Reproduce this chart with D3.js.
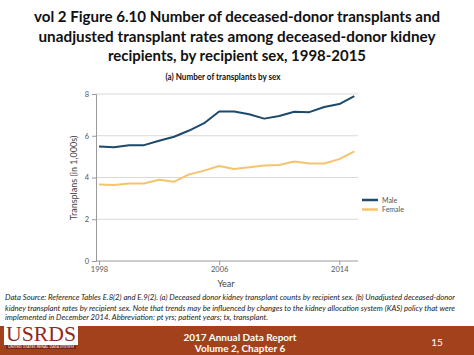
<!DOCTYPE html>
<html><head><meta charset="utf-8">
<script src="https://cdn.jsdelivr.net/npm/d3@7"></script>
<style>body{margin:0;background:#fff}svg{display:block}</style>
</head><body>
<svg id="c" width="474" height="355"></svg>
<script>
const years = [1998,1999,2000,2001,2002,2003,2004,2005,2006,2007,2008,2009,2010,2011,2012,2013,2014,2015];
const male = [5.48,5.45,5.55,5.55,5.76,5.95,6.25,6.60,7.16,7.16,7.03,6.82,6.95,7.15,7.13,7.38,7.52,7.90];
const female = [3.67,3.64,3.71,3.71,3.89,3.80,4.15,4.33,4.55,4.41,4.49,4.57,4.60,4.77,4.67,4.67,4.88,5.25];
const yTicks = [0,2,4,6,8];
const xTicks = [1998,2006,2014];
const seriesNames = ["Male","Female"];
const colors = ["#1d4a6a","#f5c46b"];
const titleLines = ["vol 2 Figure 6.10 Number of deceased-donor transplants and","unadjusted transplant rates among deceased-donor kidney","recipients, by recipient sex, 1998-2015"];
const noteLines = ["Data Source: Reference Tables E.8(2) and E.9(2). (a) Deceased donor kidney transplant counts by recipient sex. (b) Unadjusted deceased-donor",
"kidney transplant rates by recipient sex. Note that trends may be influenced by changes to the kidney allocation system (KAS) policy that were",
"implemented in December 2014. Abbreviation: pt yrs; patient years; tx, transplant."];

const svg = d3.select("#c");
const font = "Lato, 'Open Sans', sans-serif";

// Title
const tW = [406,397,258];
const tY = [22,42,61];
titleLines.forEach((t,i)=>{
  svg.append("text").attr("x",237).attr("y",tY[i]).attr("text-anchor","middle")
    .attr("font-family",font).attr("font-weight","bold").attr("font-size",16)
    .attr("fill","#111").attr("textLength",tW[i]).attr("lengthAdjust","spacingAndGlyphs").text(t);
});
svg.append("text").attr("x",223).attr("y",80).attr("text-anchor","middle")
  .attr("font-family",font).attr("font-weight","bold").attr("font-size",9.5)
  .attr("fill","#111").attr("textLength",115).attr("lengthAdjust","spacingAndGlyphs")
  .text("(a) Number of transplants by sex");

// scales
const x = d3.scaleLinear().domain([1998,2014]).range([99,339.3]);
const y = d3.scaleLinear().domain([0,8]).range([261,94]);
const xL = 96, xR = 358;

// grid
svg.append("g").selectAll("line").data(yTicks.filter(d=>d>0)).join("line")
  .attr("x1",xL).attr("x2",xR).attr("y1",d=>y(d)).attr("y2",d=>y(d))
  .attr("stroke","#d9d9d9").attr("stroke-width",1);

// axes
const gy = svg.append("g").attr("transform",`translate(${xL},0)`)
  .call(d3.axisLeft(y).tickValues(yTicks).tickSize(4).tickPadding(3));
gy.select(".domain").attr("stroke","#9a9a9a");
gy.selectAll(".tick line").attr("stroke","#9a9a9a");
gy.selectAll("text").attr("font-family",font).attr("font-size",7.5).attr("fill","#555");

const gx = svg.append("g").attr("transform",`translate(0,261)`)
  .call(d3.axisBottom(x).tickValues(xTicks).tickFormat(d3.format("d")).tickSize(4).tickPadding(2));
gx.select(".domain").attr("d",`M${xL},0H${xR}`).attr("stroke","#9a9a9a");
gx.selectAll(".tick line").attr("stroke","#9a9a9a");
gx.selectAll("text").attr("font-family",font).attr("font-size",7.5).attr("fill","#555");

svg.append("text").attr("transform","translate(77,178) rotate(-90)").attr("text-anchor","middle")
  .attr("font-family",font).attr("font-size",9).attr("fill","#444").text("Transplans (in 1,000s)");
svg.append("text").attr("x",226).attr("y",287).attr("text-anchor","middle")
  .attr("font-family",font).attr("font-size",9).attr("fill","#444").text("Year");

// lines
const line = d3.line().x((d,i)=>x(years[i])).y(d=>y(d));
[male,female].forEach((s,i)=>{
  svg.append("path").datum(s).attr("d",line).attr("fill","none")
    .attr("stroke",colors[i]).attr("stroke-width",2).attr("stroke-linejoin","round");
});

// legend
seriesNames.forEach((n,i)=>{
  const ly = 200 + i*9.5;
  svg.append("line").attr("x1",362).attr("x2",378).attr("y1",ly).attr("y2",ly)
    .attr("stroke",colors[i]).attr("stroke-width",2.5);
  svg.append("text").attr("x",382).attr("y",ly+2.5).attr("font-family",font)
    .attr("font-size",7).attr("fill","#555").text(n);
});

// notes
const nY = [300,310.5,320];
const nW = [450,450,263];
noteLines.forEach((t,i)=>{
  svg.append("text").attr("x",5).attr("y",nY[i]).attr("font-family",font)
    .attr("font-style","italic").attr("font-size",8).attr("fill","#222")
    .attr("textLength",nW[i]).attr("lengthAdjust","spacingAndGlyphs").text(t);
});

// footer bar
svg.append("rect").attr("x",0).attr("y",326).attr("width",474).attr("height",29).attr("fill","#a3411d");
svg.append("rect").attr("x",4).attr("y",323).attr("width",74).attr("height",22).attr("fill","#fff");
svg.append("text").attr("x",6).attr("y",341).attr("font-family","'Liberation Serif', serif")
  .attr("font-size",21).attr("fill","#8e2b1c").attr("textLength",70).attr("lengthAdjust","spacingAndGlyphs").text("USRDS");
svg.append("rect").attr("x",6).attr("y",345).attr("width",70).attr("height",4).attr("fill","#7a2416");
svg.append("text").attr("x",41).attr("y",348.4).attr("text-anchor","middle").attr("font-family",font)
  .attr("font-size",3.2).attr("fill","#fff").attr("textLength",66).attr("lengthAdjust","spacingAndGlyphs").text("UNITED STATES RENAL DATA SYSTEM");
svg.append("text").attr("x",240).attr("y",341).attr("text-anchor","middle").attr("font-family",font)
  .attr("font-weight","bold").attr("font-size",10).attr("fill","#fff").text("2017 Annual Data Report");
svg.append("text").attr("x",240).attr("y",352).attr("text-anchor","middle").attr("font-family",font)
  .attr("font-weight","bold").attr("font-size",10).attr("fill","#fff").text("Volume 2, Chapter 6");
svg.append("text").attr("x",437).attr("y",346).attr("text-anchor","middle").attr("font-family",font)
  .attr("font-size",10).attr("fill","#fff").text("15");
</script>
</body></html>
